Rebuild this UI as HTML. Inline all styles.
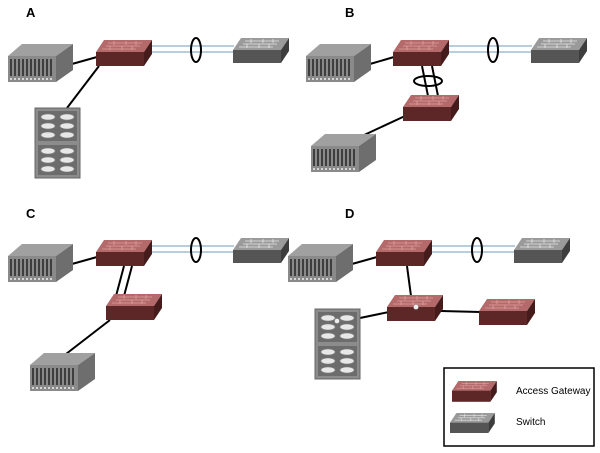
<!DOCTYPE html>
<html><head><meta charset="utf-8"><style>
body{margin:0;background:#fff}
svg{display:block}
text{font-family:"Liberation Sans",sans-serif}
</style></head><body>
<svg width="600" height="453" viewBox="0 0 600 453" xmlns="http://www.w3.org/2000/svg">
<defs>
<g id="gw">
<polygon points="8,0 56,0 48,12 0,12" fill="#b46a6a"/>
<path d="M12,3h34M10,6h34M6,9h34M18,1v4M30,1v4M40,1v4M14,6v4M26,6v4M36,6v4" stroke="#e0a0a0" stroke-width="0.8" fill="none"/>
<rect x="0" y="12" width="48" height="14" fill="#5e2727"/>
<polygon points="48,12 56,0 56,14 48,26" fill="#451b1b"/>
</g>
<g id="sw">
<polygon points="8,0 56,0 48,12 0,12" fill="#9a9a9a"/>
<path d="M12,3h34M10,6h34M6,9h34M18,1v4M30,1v4M40,1v4M14,6v4M26,6v4M36,6v4" stroke="#e6e6e6" stroke-width="0.8" fill="none"/>
<rect x="0" y="12" width="48" height="13" fill="#555"/>
<polygon points="48,12 56,0 56,13 48,25" fill="#3d3d3d"/>
</g>
<g id="srv">
<polygon points="0,12 14,0 65,0 48,12" fill="#a0a0a0"/>
<rect x="0" y="12" width="48" height="26" fill="#8a8a8a"/>
<polygon points="48,12 65,0 65,26 48,38" fill="#6e6e6e"/>
<path d="M3,15v17M7,15v17M11,15v17M15,15v17M19,15v17M23,15v17M27,15v17M31,15v17M35,15v17M39,15v17M43,15v17" stroke="#3e3e3e" stroke-width="2"/>
<path d="M2,35h44" stroke="#eee" stroke-width="1.5" stroke-dasharray="2,2"/>
</g>
<g id="stor">
<rect x="0" y="0" width="45" height="70" fill="#8c8c8c" stroke="#666"/>
<rect x="3" y="3" width="39" height="30" fill="#6c6c6c"/>
<rect x="3" y="37" width="39" height="30" fill="#6c6c6c"/>
<g fill="#e8e8e8" stroke="#888" stroke-width="0.6">
<ellipse cx="13" cy="9" rx="7" ry="3"/><ellipse cx="32" cy="9" rx="7" ry="3"/>
<ellipse cx="13" cy="18" rx="7" ry="3"/><ellipse cx="32" cy="18" rx="7" ry="3"/>
<ellipse cx="13" cy="27" rx="7" ry="3"/><ellipse cx="32" cy="27" rx="7" ry="3"/>
<ellipse cx="13" cy="43" rx="7" ry="3"/><ellipse cx="32" cy="43" rx="7" ry="3"/>
<ellipse cx="13" cy="52" rx="7" ry="3"/><ellipse cx="32" cy="52" rx="7" ry="3"/>
<ellipse cx="13" cy="61" rx="7" ry="3"/><ellipse cx="32" cy="61" rx="7" ry="3"/>
</g>
</g>
</defs>

<g font-weight="bold" font-size="13" fill="#000">
<text x="26" y="17">A</text><text x="345" y="17">B</text>
<text x="26" y="218">C</text><text x="345" y="218">D</text>
</g>

<g stroke="#000" stroke-width="2" fill="none">
<!-- A -->
<line x1="72" y1="64" x2="97" y2="57"/><line x1="99" y1="66" x2="67" y2="108"/>
<!-- B -->
<line x1="370" y1="64" x2="394" y2="57"/><line x1="422" y1="66" x2="428" y2="96"/><line x1="432" y1="66" x2="438" y2="96"/>
<line x1="362" y1="136" x2="405" y2="116"/>
<!-- C -->
<line x1="72" y1="264" x2="97" y2="257"/><line x1="124" y1="266" x2="116" y2="296"/><line x1="132" y1="266" x2="124" y2="296"/>
<line x1="66" y1="354" x2="110" y2="320"/>
<!-- D -->
<line x1="352" y1="264" x2="377" y2="257"/><line x1="407" y1="266" x2="411" y2="296"/>
<line x1="441" y1="311" x2="480" y2="312"/><line x1="360" y1="318" x2="389" y2="312"/>
</g>
<g stroke="#8fb0c8" stroke-width="1.2">
<line x1="150" y1="46" x2="234" y2="46"/><line x1="150" y1="52" x2="234" y2="52"/>
<line x1="447" y1="46" x2="532" y2="46"/><line x1="447" y1="52" x2="532" y2="52"/>
<line x1="150" y1="246" x2="234" y2="246"/><line x1="150" y1="252" x2="234" y2="252"/>
<line x1="430" y1="246" x2="515" y2="246"/><line x1="430" y1="252" x2="515" y2="252"/>
</g>
<g stroke="#000" stroke-width="2" fill="none">
<ellipse cx="196" cy="50" rx="5" ry="12"/><ellipse cx="493" cy="50" rx="5" ry="12"/>
<ellipse cx="196" cy="250" rx="5" ry="12"/><ellipse cx="477" cy="250" rx="5" ry="12"/>
<ellipse cx="428" cy="81" rx="14" ry="5"/>
</g>

<!-- A -->
<use href="#srv" x="8" y="44"/><use href="#gw" x="96" y="40"/><use href="#sw" x="233" y="38"/><use href="#stor" x="35" y="108"/>
<!-- B -->
<use href="#srv" x="306" y="44"/><use href="#gw" x="393" y="40"/><use href="#sw" x="531" y="38"/>
<use href="#gw" x="403" y="95"/><use href="#srv" x="311" y="134"/>
<!-- C -->
<use href="#srv" x="8" y="244"/><use href="#gw" x="96" y="240"/><use href="#sw" x="233" y="238"/>
<use href="#gw" x="106" y="294"/><use href="#srv" x="30" y="353"/>
<!-- D -->
<use href="#srv" x="288" y="244"/><use href="#gw" x="376" y="240"/><use href="#sw" x="514" y="238"/>
<use href="#gw" x="387" y="295"/><use href="#gw" x="479" y="299"/><use href="#stor" x="315" y="309"/>
<circle cx="416" cy="307" r="2.5" fill="#eee" stroke="#888" stroke-width="0.5"/>
<circle cx="337" cy="321" r="2.5" fill="#eee" stroke="#888" stroke-width="0.5"/>

<!-- legend -->
<rect x="444" y="368" width="150" height="78" fill="none" stroke="#000" stroke-width="1.5"/>
<g transform="translate(452,381) scale(0.8)"><use href="#gw"/></g>
<g transform="translate(450,413) scale(0.8)"><use href="#sw"/></g>
<text x="516" y="394" font-size="10">Access Gateway</text>
<text x="516" y="425" font-size="10">Switch</text>
</svg>
</body></html>
